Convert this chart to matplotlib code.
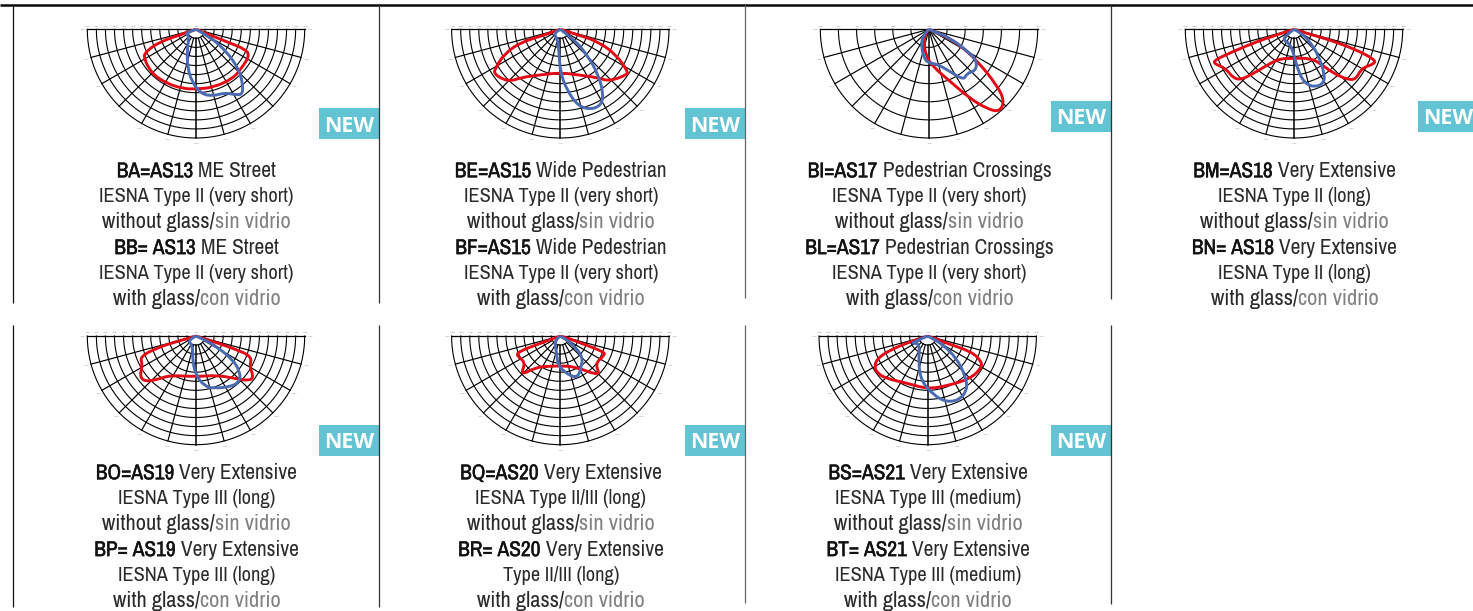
import numpy as np
import matplotlib
matplotlib.use("Agg")
import matplotlib.pyplot as plt
import matplotlib.patheffects as pe
from matplotlib import font_manager as fm
from matplotlib.path import Path
from matplotlib.patches import PathPatch

W, H = 1473, 611

# =========================
# DATA: angle (deg from nadir), intensity (outer ring = 12)
# =========================
ba_red_ang = [0, -70.5, -71, -66, -61, -45, -28.5, -12, 0, 16.6, 37, 49.5, 63, 68, 68, 68, 0]
ba_red_val = [0, 1.9, 4.2, 6.1, 6.6, 6.9, 6.8, 6.7, 6.6, 6.7, 6.8, 6.6, 6.6, 6.0, 3.6, 1.7, 0]
ba_blue_ang = [0, -70, -50, -23, -13, -4.7, 5, 14.6, 24.6, 30.7, 36, 43, 47.3, 54, 62, 0]
ba_blue_val = [0, 1.3, 1.0, 2.5, 4.2, 5.8, 7.2, 7.6, 7.7, 8.4, 8.9, 7.4, 6.3, 4.2, 1.7, 0]

be_red_ang = [0, -70, -72, -66.5, -59, -56, -49, -43.7, -38.7, -22, 0, 21.5, 38, 43.5, 55.5, 58, 65.5, 72, 72.5, 0]
be_red_val = [0, 2.2, 4.5, 6.7, 8.4, 8.8, 8.4, 7.9, 6.8, 5.4, 4.8, 5.4, 6.8, 7.9, 8.9, 8.8, 6.8, 4.4, 2.1, 0]
be_blue_ang = [0, -60, -15, -3, 0, 6, 13, 21, 28.6, 34, 40, 45.7, 54, 0]
be_blue_val = [0, 0.9, 1.1, 2.65, 4.7, 6.7, 8.7, 9.5, 9.5, 8.5, 6.5, 4.3, 2.0, 0]

bi_red_ang = [0, -45, -20, -6, 6.6, 22, 30.7, 36, 40.4, 46.5, 50.6, 57, 63, 68, 0]
bi_red_val = [0, 0.6, 1.65, 3.0, 4.2, 6.2, 8.9, 10.8, 12.0, 11.5, 9.7, 6.3, 3.8, 1.7, 0]
bi_blue_ang = [0, -52, -34, -11.7, -1, 12.5, 26.4, 34.5, 40.6, 48.5, 57, 61, 67, 66.5, 0]
bi_blue_val = [0, 0.4, 1.6, 3.1, 3.75, 3.9, 5.2, 6.8, 6.4, 6.9, 6.3, 4.7, 2.5, 0.9, 0]

bm_red_ang = [0, -72, -71.7, -70, -68.8, -66.7, -60.5, -51, -46, -41.4, -35, -25.8, 0, 29, 37.4, 41.8,
              46.5, 50.7, 60, 67, 69.4, 71.8, 73.5, 72.6, 0]
bm_red_val = [0, 2.0, 4.3, 7.1, 9.4, 9.6, 8.7, 8.6, 8.0, 6.2, 4.6, 3.6, 3.2, 3.65, 4.7, 6.5,
              8.0, 8.8, 8.6, 9.7, 9.5, 7.3, 4.1, 1.85, 0]
bm_blue_ang = [0, -53.5, -43, -18, 0, 5.8, 11.5, 19.8, 28.5, 34, 43.5, 52, 62, 0]
bm_blue_val = [0, 1.2, 1.7, 1.6, 2.8, 4.7, 6.1, 6.8, 6.8, 6.1, 3.9, 2.2, 1.0, 0]

bo_red_ang = [0, -73.7, -73.5, -70, -61.5, -54.8, -48.6, -42, -33.7, 0, 28, 41.4, 50.4, 55.5, 60, 70, 71.7, 72, 0]
bo_red_val = [0, 2.2, 4.1, 6.6, 6.7, 7.6, 7.6, 6.5, 5.2, 4.5, 4.9, 6.2, 7.8, 7.7, 6.8, 6.6, 4.3, 2.0, 0]
bo_blue_ang = [0, -62, -20, -7, 1, 10, 18, 36.4, 45, 51, 57, 62.7, 66, 0]
bo_blue_val = [0, 1.1, 1.05, 3.0, 4.5, 5.6, 6.1, 6.9, 6.9, 6.2, 4.9, 2.6, 1.1, 0]

bq_red_ang = [0, -70, -69.5, -65.7, -52.8, -45.3, -38, -21.8, 0, 25.6, 45, 51.4, 66, 70, 71, 74, 0]
bq_red_val = [0, 2.2, 4.9, 5.3, 4.8, 6.2, 4.4, 3.6, 3.3, 3.75, 6.3, 4.9, 5.3, 5.2, 2.5, 0.9, 0]
bq_blue_ang = [0, -58, -12, -5.6, 4.8, 21.6, 34.8, 47, 54, 58, 0]
bq_blue_val = [0, 0.8, 1.95, 3.0, 3.95, 5.1, 4.1, 3.35, 2.0, 0.8, 0]

bs_red_ang = [0, -72, -69.6, -66, -60, -54, -45, -24, 0, 21, 44.6, 59, 64.6, 70.4, 69, 72, 0]
bs_red_val = [0, 2.0, 4.4, 6.1, 6.8, 6.9, 6.6, 5.7, 5.85, 5.9, 6.65, 6.9, 6.6, 5.15, 2.2, 0.85, 0]
bs_blue_ang = [0, -67.5, -49, -19, -7.5, 5.5, 14.8, 25.3, 36.5, 43.7, 52.4, 60, 62, 0]
bs_blue_val = [0, 2.3, 1.1, 3.2, 5.1, 6.5, 7.5, 7.9, 7.4, 6.0, 4.0, 2.0, 0.7, 0]

# text, each line is (strong part, normal part, grey part)
ba_text = [("BA=AS13", " ME Street", ""), ("", "IESNA Type II (very short)", ""), ("", "without glass/", "sin vidrio"),
           ("BB= AS13", " ME Street", ""), ("", "IESNA Type II (very short)", ""), ("", "with glass/", "con vidrio")]
be_text = [("BE=AS15", " Wide Pedestrian", ""), ("", "IESNA Type II (very short)", ""), ("", "without glass/", "sin vidrio"),
           ("BF=AS15", " Wide Pedestrian", ""), ("", "IESNA Type II (very short)", ""), ("", "with glass/", "con vidrio")]
bi_text = [("BI=AS17", " Pedestrian Crossings", ""), ("", "IESNA Type II (very short)", ""), ("", "without glass/", "sin vidrio"),
           ("BL=AS17", " Pedestrian Crossings", ""), ("", "IESNA Type II (very short)", ""), ("", "with glass/", "con vidrio")]
bm_text = [("BM=AS18", " Very Extensive", ""), ("", "IESNA Type II (long)", ""), ("", "without glass/", "sin vidrio"),
           ("BN= AS18", " Very Extensive", ""), ("", "IESNA Type II (long)", ""), ("", "with glass/", "con vidrio")]
bo_text = [("BO=AS19", " Very Extensive", ""), ("", "IESNA Type III (long)", ""), ("", "without glass/", "sin vidrio"),
           ("BP= AS19", " Very Extensive", ""), ("", "IESNA Type III (long)", ""), ("", "with glass/", "con vidrio")]
bq_text = [("BQ=AS20", " Very Extensive", ""), ("", "IESNA Type II/III (long)", ""), ("", "without glass/", "sin vidrio"),
           ("BR= AS20", " Very Extensive", ""), ("", "Type II/III (long)", ""), ("", "with glass/", "con vidrio")]
bs_text = [("BS=AS21", " Very Extensive", ""), ("", "IESNA Type III (medium)", ""), ("", "without glass/", "sin vidrio"),
           ("BT= AS21", " Very Extensive", ""), ("", "IESNA Type III (medium)", ""), ("", "with glass/", "con vidrio")]

# cx, top y of diagram, rings, first text line y, badge x0, badge x1, badge y0
panels = [
    (196.0, 29.3, 12, 169.3, 319, 379, 108, ba_red_ang, ba_red_val, ba_blue_ang, ba_blue_val, ba_text),
    (560.3, 29.3, 12, 169.3, 685, 745, 108, be_red_ang, be_red_val, be_blue_ang, be_blue_val, be_text),
    (929.0, 29.3, 6, 169.3, 1051, 1111, 101, bi_red_ang, bi_red_val, bi_blue_ang, bi_blue_val, bi_text),
    (1294.0, 29.3, 12, 169.3, 1418, 1473, 101, bm_red_ang, bm_red_val, bm_blue_ang, bm_blue_val, bm_text),
    (196.0, 336.0, 12, 471.3, 319, 379, 425, bo_red_ang, bo_red_val, bo_blue_ang, bo_blue_val, bo_text),
    (560.3, 336.0, 12, 471.3, 685, 745, 425, bq_red_ang, bq_red_val, bq_blue_ang, bq_blue_val, bq_text),
    (927.7, 336.0, 12, 471.3, 1051, 1111, 425, bs_red_ang, bs_red_val, bs_blue_ang, bs_blue_val, bs_text),
]

# x, y0, y1, colour
dividers = [
    (12.5, 5, 303, "#111111"), (379, 5, 303, "#333333"), (745, 5, 298, "#666666"), (1111, 5, 299, "#333333"),
    (12.5, 325, 607, "#111111"), (379, 325, 607, "#333333"), (745, 325, 603, "#666666"), (1111, 325, 604, "#333333"),
]

RED = "#E30A17"
BLUE = "#4A6AB2"
R_PX = 108.7
LINE_STEP = 25.6
SAMPLE_WIDTH = 195.0  # px width of "IESNA Type II (very short)" in the reference
LINE_SCALE = [1.05, 1.0, 1.1, 1.05, 1.0, 1.1]

names = {f.name for f in fm.fontManager.ttflist}
TEXT_FONT = "Liberation Sans"
for cand in ["Archivo Narrow", "Roboto Condensed", "Asap Condensed", "Liberation Sans Narrow"]:
    if cand in names:
        TEXT_FONT = cand
        break


def polar_xy(ang, val):
    a = np.radians(np.asarray(ang, dtype=float))
    v = np.asarray(val, dtype=float)
    return v * np.sin(a), -v * np.cos(a)


def add_curve(ax, ang, val, color, z):
    # quadratic segments through midpoints, read points act as control points
    x, y = polar_xy(ang, val)
    pts = np.column_stack([x, y])
    verts = [pts[0]]
    codes = [Path.MOVETO]
    for i in range(1, len(pts) - 1):
        end = pts[i + 1] if i == len(pts) - 2 else (pts[i] + pts[i + 1]) / 2
        verts += [pts[i], end]
        codes += [Path.CURVE3, Path.CURVE3]
    ax.add_patch(PathPatch(Path(verts, codes), fill=False, edgecolor=color, lw=2.1,
                           joinstyle="round", zorder=z))


def draw_diagram(fig, cx, top, rings, red_ang, red_val, blue_ang, blue_val):
    s = 16  # half width of the axes in intensity units
    half = s * R_PX / 12
    ax = fig.add_axes([(cx - half) / W, 1 - (top + half) / H, 2 * half / W, 2 * half / H])
    ax.set_xlim(-s, s)
    ax.set_ylim(-s, s)
    ax.axis("off")
    ax.patch.set_alpha(0)

    th = np.radians(np.linspace(-90, 90, 181))
    for r in np.linspace(12 / rings, 12, rings):
        ax.plot(r * np.sin(th), -r * np.cos(th), color="black", lw=0.8, zorder=1)
    ax.plot([-12, 12], [0, 0], color="black", lw=0.9, zorder=1)
    start = 1.0 if rings == 12 else 0.3
    for a in range(-75, 76, 15):
        x, y = polar_xy([a, a], [start, 12])
        ax.plot(x, y, color="black", lw=0.85 if a else 1.1, zorder=1)

    # faint scale labels round the rim
    rim_x, rim_y = polar_xy(list(range(-90, 91, 15)), [12.55] * 13)
    ax.scatter(rim_x, rim_y, marker="_", s=5, lw=0.5, color="#c4c4c4", zorder=1)
    top_x = np.linspace(-12, 12, 2 * rings + 1)
    ax.scatter(top_x, [0.4] * len(top_x), marker="_", s=7, lw=0.6, color="#c4c4c4", zorder=1)

    add_curve(ax, red_ang, red_val, RED, 3)
    add_curve(ax, blue_ang, blue_val, BLUE, 4)


def draw_line(ax, renderer, cx, y, parts, fs):
    strong, normal, grey = parts
    items = []
    for s, col, bold in ((strong, "#111111", True), (normal, "#2a2a2a", False), (grey, "#808080", False)):
        if s:
            t = ax.text(0, y, s.replace(" ", "\u00a0"), fontsize=fs, family=TEXT_FONT, color=col,
                        ha="left", va="center_baseline")
            if bold:
                t.set_path_effects([pe.withStroke(linewidth=0.3, foreground=col)])
            items.append(t)
    widths = [t.get_window_extent(renderer).width for t in items]
    x = cx - sum(widths) / 2
    for t, w in zip(items, widths):
        t.set_x(x)
        x += w


fig = plt.figure(figsize=(W / 100, H / 100), dpi=100, facecolor="white")
page = fig.add_axes([0, 0, 1, 1])
page.set_xlim(0, W)
page.set_ylim(H, 0)
page.axis("off")
renderer = fig.canvas.get_renderer()

# pick the size from the width of one known line
probe = page.text(0, 0, "IESNA Type II (very short)", fontsize=15, family=TEXT_FONT)
FS = 15 * SAMPLE_WIDTH / probe.get_window_extent(renderer).width
probe.remove()

page.plot([0, W], [5, 5], color="#0a0a0a", lw=1.8, solid_capstyle="butt")
for x, y0, y1, col in dividers:
    page.plot([x, x], [y0, y1], color=col, lw=0.9, solid_capstyle="butt")

for cx, top, rings, text_y, bx0, bx1, by0, ra, rv, ba, bv, lines in panels:
    draw_diagram(fig, cx, top, rings, ra, rv, ba, bv)
    page.fill_between([bx0, bx1], by0, by0 + 31, color="#62C3D2", lw=0)
    page.text(bx0 + 30, by0 + 15.5, "NEW", color="white", fontsize=15.5,
              family="Open Sans", fontweight="bold", ha="center", va="center_baseline", clip_on=True)
    for i, parts in enumerate(lines):
        draw_line(page, renderer, cx + 0.5, text_y + i * LINE_STEP, parts, FS * LINE_SCALE[i])

fig.savefig("out.png", dpi=100)
